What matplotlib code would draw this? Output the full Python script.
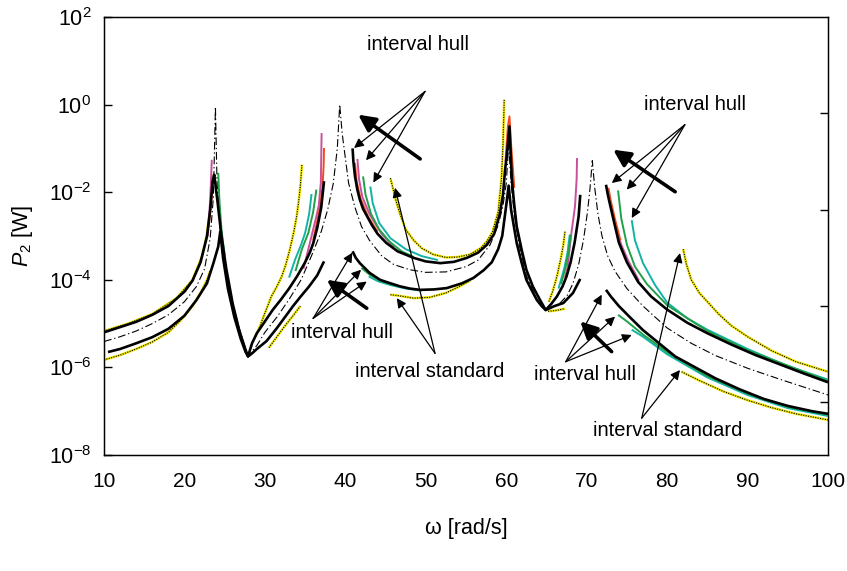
"""Output power P2 vs. frequency: interval hull / interval standard bounds."""

import matplotlib

matplotlib.use("Agg")
import matplotlib.pyplot as plt  # noqa: E402
import numpy as np  # noqa: E402
from matplotlib import font_manager  # noqa: E402

# ----------------------------------------------------------------------------
# Data (omega in rad/s, values are log10 of P2 in W)
# ----------------------------------------------------------------------------
# nominal response (thin dash-dot)
nom_w = [10, 12, 14, 16, 18, 20, 21.5, 22.5, 23.2, 23.6, 23.85, 24.05, 24.4, 25.0, 25.8,
         26.8, 27.9, 29.0, 30.0, 31.5, 33.0, 34.5, 35.8, 37.0, 37.8, 38.5, 39.0, 39.3,
         39.6, 40.4, 41.2, 42.0, 43.0, 44.5, 46, 48, 50, 52.5, 55, 56.5, 58.0, 59.0, 59.6,
         60.0, 60.3, 60.6, 61.0, 61.6, 62.5, 63.8, 64.9, 65.8, 66.7, 67.6, 68.3, 69.0,
         69.6, 70.1, 70.4, 70.7, 71.0, 71.4, 71.9, 72.6, 73.5, 75, 77, 80, 83, 86, 90, 94,
         97, 100]
nom_lg = [-5.41, -5.3, -5.17, -5.0, -4.8, -4.5, -4.15, -3.75, -3.05, -2.1, -0.05, -1.8,
          -2.8, -3.6, -4.4, -5.1, -5.75, -5.5, -5.2, -4.85, -4.45, -4.0, -3.45, -2.9,
          -2.4, -1.8, -1.0, 0.0, -0.65, -1.79, -2.35, -2.78, -3.1, -3.45, -3.65, -3.77,
          -3.83, -3.82, -3.7, -3.55, -3.2, -2.75, -2.3, -1.8, -0.9, -1.8, -2.5, -3.2,
          -3.9, -4.45, -4.69, -4.62, -4.53, -4.35, -4.08, -3.65, -3.09, -2.45, -1.94,
          -1.28, -1.9, -2.5, -3.0, -3.45, -3.8, -4.2, -4.6, -5.1, -5.45, -5.73, -6.02,
          -6.27, -6.45, -6.63]

# exact bounds (thick black), three frequency bands
upA_w = [10, 12, 14, 16, 18, 20, 21, 22, 22.8, 23.2, 23.5, 23.7, 24.1, 24.6, 25.2, 26.0,
         26.8, 27.5, 27.9, 28.4, 29.0, 30.0, 31.0, 32.0, 33.0, 34.0, 35.0, 35.6, 36.0,
         36.5, 37.0, 37.35]
upA_lg = [-5.2, -5.08, -4.96, -4.8, -4.6, -4.27, -4.02, -3.6, -3.01, -2.4, -1.75, -1.6,
          -2.2, -3.0, -3.75, -4.55, -5.15, -5.55, -5.75, -5.45, -5.22, -4.95, -4.68,
          -4.45, -4.2, -3.92, -3.6, -3.37, -3.17, -2.82, -2.35, -1.75]
loA_w = [10.5, 12, 14, 16, 18, 20, 21.5, 22.8, 23.6, 24.2, 24.45, 24.8, 25.4, 26.2, 27.0,
         27.6, 27.9, 28.4, 29.0, 30.2, 31.5, 32.5, 33.5, 34.5, 35.5, 36.5, 37.35]
loA_lg = [-5.65, -5.58, -5.45, -5.31, -5.12, -4.82, -4.46, -4.08, -3.62, -3.24, -2.9, -3.5,
          -4.2, -4.85, -5.35, -5.65, -5.75, -5.68, -5.58, -5.4, -5.1, -4.85, -4.6, -4.37,
          -4.15, -3.9, -3.58]
upB_w = [40.9, 41.0, 41.2, 41.5, 41.8, 42.2, 42.7, 43.3, 44.0, 45.1, 46.5, 48.5, 50.0,
         51.8, 53.5, 55.1, 56.5, 57.6, 58.5, 59.2, 59.6, 59.85, 60.1, 60.4, 60.7, 61.0,
         61.3, 61.9, 62.5, 63.3, 64.2, 64.9, 65.6, 66.3, 67.0, 67.5, 68.0, 68.5, 69.0, 69.2]
upB_lg = [-1.0, -1.3, -1.64, -1.95, -2.17, -2.38, -2.55, -2.75, -2.95, -3.16, -3.35, -3.5,
          -3.58, -3.62, -3.59, -3.5, -3.38, -3.2, -2.95, -2.5, -2.05, -1.5, -1.1, -0.5,
          -1.71, -2.3, -2.78, -3.3, -3.77, -4.15, -4.46, -4.69, -4.55, -4.38, -4.15,
          -3.92, -3.6, -3.15, -2.55, -2.06]
loB_w = [40.9, 41.3, 41.8, 43.0, 44.3, 45.6, 46.8, 48.0, 49.3, 51.0, 52.6, 54.5, 55.9,
         57.2, 58.2, 59.0, 59.5, 60.0, 60.3, 60.6, 61.3, 61.9, 62.5, 63.2, 63.8, 64.4,
         64.9, 66.0, 67.1, 68.3, 69.2]
loB_lg = [-3.35, -3.5, -3.62, -3.84, -4.0, -4.08, -4.15, -4.2, -4.23, -4.22, -4.19, -4.08,
          -3.96, -3.78, -3.6, -3.3, -3.0, -2.3, -1.85, -2.4, -3.16, -3.6, -4.0, -4.25,
          -4.46, -4.6, -4.69, -4.6, -4.53, -4.3, -3.98]
upC_w = [72.4, 72.6, 72.8, 73.3, 74.0, 75.0, 76.4, 78.0, 80.0, 82.5, 85.0, 88.0, 91.0,
         94.0, 97.0, 100.0]
upC_lg = [-1.83, -2.03, -2.2, -2.6, -3.15, -3.6, -4.05, -4.38, -4.68, -4.98, -5.22, -5.48,
          -5.72, -5.93, -6.14, -6.34]
loC_w = [72.4, 73.0, 74.0, 75.4, 77.0, 79.0, 81.0, 83.5, 86.0, 89.0, 92.0, 95.0, 98.0, 100.0]
loC_lg = [-4.23, -4.38, -4.6, -4.86, -5.15, -5.45, -5.75, -6.0, -6.25, -6.5, -6.72, -6.88,
          -7.0, -7.06]

# interval standard (yellow dotted)
yel_segments = [
    ([10, 13, 16, 19, 21, 22.2, 22.8, 23.1], [-5.17, -5.0, -4.78, -4.42, -4.0, -3.45, -2.95, -2.5]),
    ([10, 12, 14, 16, 18, 19.4, 21, 22, 22.8, 23.2],
     [-5.83, -5.72, -5.58, -5.42, -5.2, -4.95, -4.6, -4.3, -4.0, -3.8]),
    ([28.8, 29.4, 30.0, 30.8, 31.5, 32.1, 32.6, 33.1, 33.6, 33.95, 34.2, 34.4, 34.6],
     [-5.3, -5.05, -4.76, -4.38, -4.15, -3.92, -3.65, -3.31, -2.9, -2.55, -2.2, -1.87, -1.37]),
    ([30.5, 31.5, 32.5, 33.5, 34.4], [-5.55, -5.3, -5.05, -4.82, -4.6]),
    ([45.6, 45.9, 46.3, 46.8, 47.5, 48.5, 49.5, 50.9, 52.5, 54.0, 55.5, 56.8, 57.6, 58.3,
      59.0, 59.4, 59.6, 59.75],
     [-1.68, -1.9, -2.2, -2.5, -2.85, -3.1, -3.28, -3.42, -3.49, -3.48, -3.42, -3.28, -3.12,
      -2.9, -2.45, -1.7, -0.9, 0.11]),
    ([45.6, 46.5, 48.5, 50.5, 52.5, 54, 55.5], [-4.34, -4.36, -4.42, -4.4, -4.3, -4.17, -4.02]),
    ([65.3, 65.8, 66.3, 66.8, 67.1, 67.3], [-4.5, -4.25, -3.92, -3.5, -3.2, -2.9]),
    ([65.2, 66.2, 67.3], [-4.72, -4.7, -4.66]),
    ([82.0, 82.4, 83.0, 84.0, 85.0, 86.5, 88, 90, 93, 96, 100],
     [-3.3, -3.65, -4.0, -4.3, -4.5, -4.8, -5.05, -5.3, -5.62, -5.87, -6.1]),
    ([81.8, 84, 87, 90, 93, 96, 100], [-6.1, -6.3, -6.55, -6.75, -6.92, -7.06, -7.2]),
]

# interval hull variants (coloured)
magenta_segments = [
    ([22.9, 23.2, 23.4], [-3.0, -2.17, -1.26]),
    ([34.8, 35.8, 36.4, 36.7, 36.95, 37.05], [-3.75, -3.0, -2.55, -2.3, -1.79, -0.65]),
    ([41.5, 41.7, 42.1, 43.0, 44.5, 46.0], [-1.24, -1.7, -2.1, -2.5, -2.95, -3.25]),
    ([67.3, 67.6, 68.1, 68.55, 68.75, 68.8], [-3.95, -3.75, -2.93, -2.32, -1.7, -1.22]),
    ([73.2, 73.6, 74.3, 75.2, 76.5], [-2.49, -2.8, -3.2, -3.58, -4.02]),
]
red_segments = [
    ([23.0, 23.4, 23.6], [-2.8, -2.1, -1.6]),
    ([36.0, 36.8, 37.15, 37.3, 37.35], [-3.1, -2.4, -1.9, -1.4, -0.99]),
    ([41.2, 41.4, 41.9, 42.8, 44], [-1.33, -1.75, -2.15, -2.55, -2.9]),
    ([59.9, 60.2, 60.4, 60.6, 61.0], [-1.3, -0.5, -0.27, -0.9, -1.9]),
    ([72.7, 73.0, 73.5, 74.2], [-1.9, -2.2, -2.6, -3.1]),
]
green_segments = [
    ([24.2, 24.35, 24.6, 25.0], [-1.56, -2.2, -2.85, -3.45]),
    ([33.8, 34.6, 35.4, 36.0, 36.4], [-3.8, -3.3, -2.93, -2.45, -1.94]),
    ([42.2, 42.5, 43.2, 44.2, 45.5, 47.0, 48.5], [-1.64, -2.05, -2.5, -2.85, -3.13, -3.35, -3.48]),
    ([42.0, 43, 44.5, 46], [-3.73, -3.88, -4.03, -4.12]),
    ([66.8, 67.4, 67.8, 68.0], [-4.1, -3.7, -3.3, -2.97]),
    ([73.9, 74.3, 75, 76, 77.5, 80, 85, 90, 100],
     [-1.96, -2.6, -3.2, -3.7, -4.1, -4.58, -5.17, -5.61, -6.31]),
    ([73.9, 75, 77, 80, 85, 90, 95, 100], [-4.8, -4.95, -5.25, -5.65, -6.2, -6.6, -6.9, -7.08]),
]
teal_segments = [
    ([33.0, 33.75, 34.5, 35.0, 35.5, 35.8], [-3.95, -3.54, -3.2, -2.93, -2.5, -2.04]),
    ([43.1, 43.4, 44.2, 45.6, 47.5, 49.5, 51.5], [-1.87, -2.25, -2.7, -3.05, -3.3, -3.46, -3.55]),
    ([42.9, 44, 45.6, 47.5, 49.5], [-3.92, -4.03, -4.12, -4.2, -4.25]),
    ([66.5, 67.2, 67.6, 67.9], [-4.2, -3.75, -3.4, -2.97]),
    ([75.6, 76.0, 77.0, 78.5, 80, 82.5, 85, 90, 95, 100],
     [-2.64, -3.1, -3.62, -4.12, -4.52, -4.88, -5.14, -5.58, -5.97, -6.28]),
    ([75.6, 77, 80, 85, 90, 95, 100], [-5.14, -5.3, -5.7, -6.23, -6.63, -6.93, -7.11]),
]

# annotations: (label, text position, arrow tails, arrow tips, thick arrow (tail, tip))
hull_labels = [
    ((49.0, 1.37), (49.9, 0.30), [(41.08, -0.99), (42.57, -1.27), (43.48, -1.78)],
     ((49.3, -1.24), (41.6, -0.23))),
    ((39.6, -5.21), (36.0, -4.88), [(40.87, -3.38), (41.95, -3.77), (42.66, -4.04)],
     ((42.66, -4.65), (37.7, -4.0))),
    ((83.5, 0.0), (82.2, -0.46), [(73.12, -1.79), (74.98, -1.94), (75.6, -2.59)],
     ((81.0, -1.99), (73.3, -1.03))),
    ((69.8, -6.17), (67.4, -5.87), [(71.87, -4.34), (73.53, -4.84), (75.6, -5.26)],
     ((73.1, -5.64), (69.2, -4.95))),
]
standard_labels = [
    ((50.5, -6.1), (51.15, -5.68), [(46.18, -1.90), (46.39, -4.42)]),
    ((80.1, -7.43), (76.84, -7.16), [(81.6, -3.39), (81.6, -6.06)]),
]

x_ticks = [10, 20, 30, 40, 50, 60, 70, 80, 90, 100]
y_ticks = [1e-8, 1e-6, 1e-4, 1e-2, 1e0, 1e2]
right_ticks_lg = [-0.2, -2.4, -4.6, -6.8]

# ----------------------------------------------------------------------------
# Plot
# ----------------------------------------------------------------------------
plt.rcParams["font.family"] = ["Liberation Sans", "DejaVu Sans"]
plt.rcParams["mathtext.fontset"] = "custom"
plt.rcParams["mathtext.rm"] = "Liberation Sans"
plt.rcParams["mathtext.it"] = "Liberation Sans:italic"

installed = {f.name for f in font_manager.fontManager.ttflist}
narrow = "Liberation Sans Narrow" if "Liberation Sans Narrow" in installed else "Liberation Sans"

fig = plt.figure(figsize=(8.47, 5.71), dpi=100)
ax = fig.add_axes([0.1228, 0.2032, 0.8548, 0.767])


def curve(w, lg, **kw):
    ax.plot(w, 10.0 ** np.asarray(lg), solid_capstyle="butt", **kw)


for w, lg in yel_segments:
    curve(w, lg, color="#f2e600", lw=1.8, zorder=2)
    curve(w, lg, color="k", lw=0.8, ls=(0, (1, 1.2)), zorder=2.1)
for segs, col in [(magenta_segments, "#c8509c"), (red_segments, "#f04a22"),
                  (teal_segments, "#12b3a6"), (green_segments, "#21a048")]:
    for w, lg in segs:
        curve(w, lg, color=col, lw=1.4, zorder=3)
for w, lg in [(upA_w, upA_lg), (loA_w, loA_lg), (upB_w, upB_lg), (loB_w, loB_lg),
              (upC_w, upC_lg), (loC_w, loC_lg)]:
    curve(w, lg, color="k", lw=1.9, zorder=4)
curve(nom_w, nom_lg, color="k", lw=0.8, ls=(0, (7, 2.5, 1.2, 2.5)), zorder=5)

arrow_kw = dict(arrowstyle="-|>", color="k", lw=0.9, mutation_scale=14, shrinkA=0, shrinkB=0)
thick_kw = dict(arrowstyle="-|>", color="k", lw=2.6, mutation_scale=25, shrinkA=0, shrinkB=0)


def p(pt):
    return (pt[0], 10.0 ** pt[1])


for txt, tail, tips, (t0, t1) in hull_labels:
    ax.text(*p(txt), "interval hull", ha="center", va="center", fontsize=14.5, zorder=6)
    for tip in tips:
        ax.annotate("", xy=p(tip), xytext=p(tail), arrowprops=arrow_kw, zorder=6)
    ax.annotate("", xy=p(t1), xytext=p(t0), arrowprops=thick_kw, zorder=6)
for txt, tail, tips in standard_labels:
    ax.text(*p(txt), "interval standard", ha="center", va="center", fontsize=14.5, zorder=6)
    for tip in tips:
        ax.annotate("", xy=p(tip), xytext=p(tail), arrowprops=arrow_kw, zorder=6)

ax.set_xlim(10, 100)
ax.set_yscale("log")
ax.set_ylim(1e-8, 1e2)
ax.set_xticks(x_ticks)
ax.set_yticks(y_ticks)
ax.minorticks_off()
ax.tick_params(direction="in", length=6, width=1, labelsize=15.5)
ax.tick_params(axis="x", pad=12, length=0)
ax.tick_params(axis="y", pad=9)
for lab in ax.get_xticklabels():
    lab.set_family(narrow)
    lab.set_fontsize(17 if narrow != "Liberation Sans" else 15)
for s in ax.spines.values():
    s.set_linewidth(1.0)

ax2 = ax.twinx()
ax2.set_yscale("log")
ax2.set_ylim(1e-8, 1e2)
ax2.set_yticks([10.0 ** v for v in right_ticks_lg])
ax2.minorticks_off()
ax2.tick_params(direction="in", length=6, width=1, labelright=False)

ax.set_xlabel("ω [rad/s]", fontsize=15.5, family=narrow, labelpad=20)
ax.set_ylabel(r"$P_2$ [W]", fontsize=15.5, labelpad=10)

fig.savefig("out.png", dpi=100)
